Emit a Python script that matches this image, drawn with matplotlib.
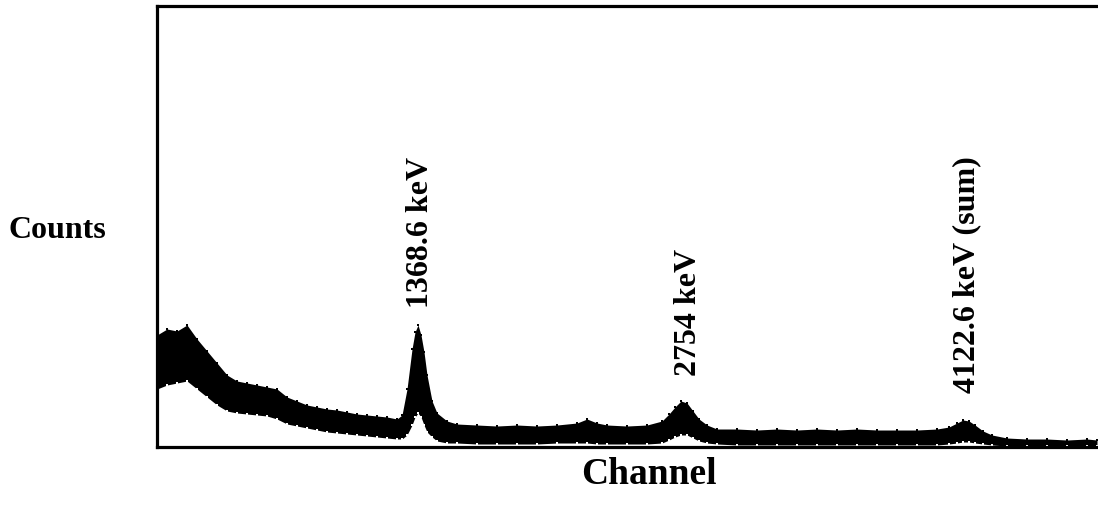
import matplotlib
matplotlib.use("Agg")
import matplotlib.pyplot as plt

# spectrum: channel, lower and upper edge of the count band
channels = [0, 10, 20, 30, 40, 50, 60, 70, 80, 90, 100, 110, 120, 130, 140, 150,
            160, 170, 180, 190, 200, 210, 220, 230, 240, 245, 250, 255, 258, 261,
            264, 267, 270, 275, 280, 290, 300, 320, 340, 360, 380, 400, 420, 430,
            440, 450, 470, 490, 505, 512, 518, 524, 530, 536, 542, 550, 560, 580,
            600, 620, 640, 660, 680, 700, 720, 740, 760, 780, 792, 800, 806, 812,
            818, 826, 835, 850, 870, 890, 910, 930, 940]
counts_low = [58, 62, 64, 66, 58, 50, 42, 36, 34, 33, 32, 31, 28, 23, 21, 19,
              17, 15, 14, 13, 12, 11, 10, 9, 8, 8, 12, 22, 30, 34, 30, 22, 15, 10, 6, 4,
              4, 3, 3, 3, 3, 4, 4, 4, 3, 3, 3, 3, 4, 7, 10, 12, 12, 9, 6, 4, 3, 2,
              2, 2, 2, 2, 2, 2, 2, 2, 2, 2, 3, 4, 5, 5, 4, 3, 2, 1, 1, 1, 1, 1, 1]
counts_high = [112, 118, 116, 122, 108, 96, 84, 72, 66, 64, 62, 60, 58, 50, 46, 42,
               40, 38, 37, 35, 33, 32, 31, 30, 28, 32, 58, 98, 115, 122, 112, 95, 72, 46, 34, 26,
               23, 22, 21, 22, 21, 22, 24, 28, 24, 22, 21, 22, 26, 33, 40, 46, 44, 36, 28, 22, 18, 18,
               17, 18, 17, 18, 17, 18, 17, 17, 17, 18, 20, 24, 27, 26, 22, 16, 12, 9, 8, 8, 7, 8, 7]

peak_labels = ["1368.6 keV", "2754 keV", "4122.6 keV (sum)"]
peak_channels = [263, 531, 810]
label_bottoms = [140, 72, 55]

fig = plt.figure(figsize=(10.98, 5.06), dpi=100)
ax = fig.add_axes([0.143, 0.1146, 0.857, 0.8716])

ax.fill_between(channels, counts_low, counts_high, color="black", linewidth=0)
ax.scatter(channels, counts_high, s=4, color="black", marker="s", linewidths=0)
ax.scatter(channels, counts_low, s=4, color="white", marker="s", linewidths=0)

for label, ch, yb in zip(peak_labels, peak_channels, label_bottoms):
    ax.text(ch, yb, label, rotation=90, ha="center", va="bottom",
            fontsize=23, fontweight="bold", family="Liberation Serif")

ax.set_xlim(0, 941)
ax.set_ylim(0, 441)
ax.set_xticks([])
ax.set_yticks([])
for side in ["left", "top", "bottom"]:
    ax.spines[side].set_linewidth(2.3)
ax.spines["right"].set_visible(False)

fig.text(0.0073, 0.545, "Counts", fontsize=23, fontweight="bold",
         family="Liberation Serif", ha="left", va="center")
fig.text(0.591, 0.062, "Channel", fontsize=27, fontweight="bold",
         family="Liberation Serif", ha="center", va="center")

fig.savefig("out.png", dpi=100)
